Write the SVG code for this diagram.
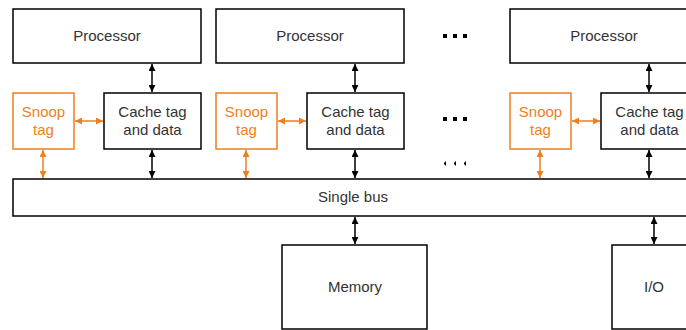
<svg xmlns="http://www.w3.org/2000/svg" width="686" height="330" viewBox="0 0 686 330">
<style>
.box{fill:#fff;stroke:#000;stroke-width:1.5}
.sbox{fill:#fff;stroke:#F07E1E;stroke-width:1.5}
text{font-family:"Liberation Sans",Arial,sans-serif;font-size:15px;text-anchor:middle;fill:#333}
.st{fill:#F07E1E}
.c{stroke:#000;stroke-width:1.5;fill:none;marker-start:url(#ak);marker-end:url(#ak)}
.co{stroke:#F07E1E;stroke-width:1.5;fill:none;marker-start:url(#ao);marker-end:url(#ao)}
.dot{fill:#000}
</style>
<defs>
<marker id="ak" viewBox="0 0 10 10" refX="10" refY="5" markerWidth="7" markerHeight="7" markerUnits="userSpaceOnUse" orient="auto-start-reverse"><path d="M0,0 L10,5 L0,10 z" fill="#000"/></marker>
<marker id="ao" viewBox="0 0 10 10" refX="10" refY="5" markerWidth="7" markerHeight="7" markerUnits="userSpaceOnUse" orient="auto-start-reverse"><path d="M0,0 L10,5 L0,10 z" fill="#F07E1E"/></marker>
</defs>
<g id="proc1"><rect class="box" x="13" y="9" width="188" height="54"/><text x="107" y="41">Processor</text></g>
<g id="snoop1"><rect class="sbox" x="13" y="93" width="61" height="56"/><text class="st" x="43.5" y="117">Snoop</text><text class="st" x="43.5" y="135">tag</text></g>
<g id="cache1"><rect class="box" x="104" y="93" width="97" height="56"/><text x="152.5" y="117">Cache tag</text><text x="152.5" y="135">and data</text></g>
<g id="proc2"><rect class="box" x="216" y="9" width="188" height="54"/><text x="310" y="41">Processor</text></g>
<g id="snoop2"><rect class="sbox" x="216" y="93" width="61" height="56"/><text class="st" x="246.5" y="117">Snoop</text><text class="st" x="246.5" y="135">tag</text></g>
<g id="cache2"><rect class="box" x="307" y="93" width="97" height="56"/><text x="355.5" y="117">Cache tag</text><text x="355.5" y="135">and data</text></g>
<g id="proc3"><rect class="box" x="510" y="9" width="188" height="54"/><text x="604" y="41">Processor</text></g>
<g id="snoop3"><rect class="sbox" x="510" y="93" width="61" height="56"/><text class="st" x="540.5" y="117">Snoop</text><text class="st" x="540.5" y="135">tag</text></g>
<g id="cache3"><rect class="box" x="601" y="93" width="97" height="56"/><text x="649.5" y="117">Cache tag</text><text x="649.5" y="135">and data</text></g>
<g id="bus"><rect class="box" x="13" y="179" width="690" height="37"/><text x="353" y="202">Single bus</text></g>
<g id="memory"><rect class="box" x="282" y="245" width="145" height="84"/><text x="355" y="292">Memory</text></g>
<g id="io"><rect class="box" x="612" y="245" width="100" height="84"/><text x="654" y="292">I/O</text></g>
<g id="dots">
<rect class="dot" x="443" y="34" width="4" height="4"/><rect class="dot" x="453" y="34" width="4" height="4"/><rect class="dot" x="463" y="34" width="4" height="4"/>
<rect class="dot" x="443" y="117" width="4" height="4"/><rect class="dot" x="453" y="117" width="4" height="4"/><rect class="dot" x="463" y="117" width="4" height="4"/>
<path class="dot" d="M444,163 L446,161 L446,166 L444,164 z M454,163 L456,161 L456,166 L454,164 z M464,163 L466,161 L466,166 L464,164 z"/>
</g>
<g id="connectors">
<line class="c" x1="152" y1="64" x2="152" y2="92"/>
<line class="c" x1="152" y1="150" x2="152" y2="178"/>
<line class="co" x1="75" y1="121" x2="103" y2="121"/>
<line class="co" x1="43" y1="150" x2="43" y2="178"/>
<line class="c" x1="355" y1="64" x2="355" y2="92"/>
<line class="c" x1="355" y1="150" x2="355" y2="178"/>
<line class="co" x1="278" y1="121" x2="306" y2="121"/>
<line class="co" x1="246" y1="150" x2="246" y2="178"/>
<line class="c" x1="649" y1="64" x2="649" y2="92"/>
<line class="c" x1="649" y1="150" x2="649" y2="178"/>
<line class="co" x1="572" y1="121" x2="600" y2="121"/>
<line class="co" x1="540" y1="150" x2="540" y2="178"/>
<line class="c" x1="355" y1="217" x2="355" y2="244"/>
<line class="c" x1="654" y1="217" x2="654" y2="244"/>
</g>
</svg>
